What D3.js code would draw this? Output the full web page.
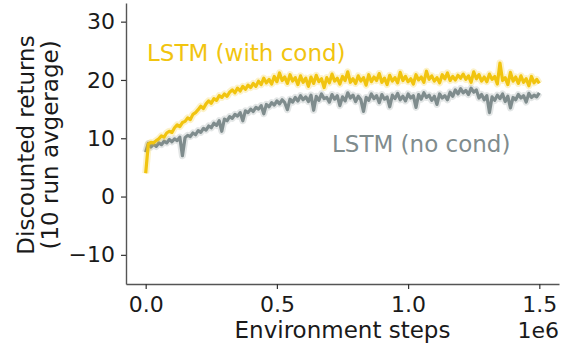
<!DOCTYPE html>
<html>
<head>
<meta charset="utf-8">
<script src="https://cdn.jsdelivr.net/npm/d3@7"></script>
<style>
  body { margin: 0; background: #fff; }
  text { font-family: "DejaVu Sans", sans-serif; }
</style>
</head>
<body>
<div id="vis"></div>
<script>
// LSTM (with cond), one value every 0.01e6 steps from 0 to 1.5e6
var withCond = [4.0, 9.0, 9.3, 9.2, 9.6, 9.9, 10.4, 10.2, 10.9, 11.2,
  11.0, 11.8, 12.3, 12.0, 12.7, 12.9, 13.5, 13.2, 14.1, 14.4,
  14.9, 15.5, 15.1, 15.9, 16.4, 16.0, 16.8, 16.5, 17.3, 17.0,
  17.6, 17.2, 17.9, 18.3, 17.8, 18.6, 18.1, 18.9, 18.4, 19.1,
  18.7, 19.4, 18.9, 19.8, 19.2, 20.3, 19.5, 20.1, 19.3, 20.6,
  19.7, 21.2, 19.9, 20.5, 19.4, 20.9, 19.8, 20.4, 19.2, 20.7,
  19.6, 20.3, 18.9, 20.5, 19.4, 20.8, 19.7, 20.2, 18.7, 20.4,
  19.5, 21.0, 19.8, 20.3, 19.3, 20.6, 19.9, 21.4, 19.6, 20.2,
  19.4, 20.7, 19.8, 20.4, 19.1, 20.9, 19.7, 20.5, 19.9, 21.1,
  19.6, 20.3, 19.2, 20.8, 19.8, 20.4, 19.5, 21.3, 19.9, 20.6,
  19.7, 20.2, 19.3, 20.9, 20.0, 20.5, 19.6, 21.5, 20.1, 20.7,
  19.8, 20.4, 19.5, 20.9, 20.2, 21.2, 19.9, 20.6, 20.0, 20.8,
  20.3, 21.0, 20.1, 20.7, 19.6, 21.4, 20.2, 20.9, 19.8, 20.5,
  19.7, 21.0, 20.1, 20.6, 19.3, 22.9, 19.9, 20.4, 19.2, 21.3,
  19.8, 20.5, 19.4, 20.7, 19.6, 20.2, 19.0, 20.6, 19.5, 20.1, 19.4];

// LSTM (no cond), same steps
var noCond = [7.6, 9.1, 8.5, 9.0, 8.6, 9.2, 8.9, 9.5, 9.2, 9.8,
  9.4, 9.9, 9.6, 10.2, 7.0, 10.1, 10.5, 10.3, 10.9, 10.6,
  11.3, 11.0, 11.7, 11.4, 12.1, 11.8, 12.6, 12.2, 13.0, 11.2,
  13.3, 13.0, 13.7, 13.4, 14.1, 13.8, 14.4, 13.0, 14.7, 14.4,
  15.0, 14.6, 15.3, 15.0, 15.6, 14.2, 15.8, 15.4, 16.1, 15.7,
  16.4, 15.9, 16.6, 16.1, 14.9, 16.7, 16.2, 17.0, 16.4, 17.3,
  16.6, 17.1, 16.3, 17.4, 14.8, 17.2, 16.5, 17.6, 16.8, 17.0,
  16.2, 17.5, 16.7, 17.3, 15.6, 17.1, 16.4, 17.8, 16.9, 17.4,
  16.3, 17.2, 16.6, 14.6, 17.0, 16.5, 17.6, 16.8, 17.3, 16.1,
  17.5, 16.7, 17.1, 15.4, 17.4, 16.8, 17.7, 16.6, 17.2, 16.4,
  17.6, 16.9, 17.3, 15.3, 17.5, 16.7, 17.8, 17.0, 17.4, 16.5,
  17.2, 15.8, 17.6, 16.9, 17.3, 16.6, 17.9, 17.2, 18.3, 17.6,
  18.5, 17.8, 18.2, 17.5, 18.6, 17.9, 18.3, 16.9, 17.5, 16.6,
  17.3, 14.4, 17.1, 16.5, 17.4, 16.8, 17.6, 16.3, 17.2, 15.2,
  17.0, 16.6, 17.5, 16.9, 17.3, 16.2, 17.7, 17.0, 17.4, 17.1, 17.8];

var stepSize = 0.01;   // 1e6 steps between logged points
var xTicks = [0, 0.5, 1.0, 1.5];
var yTicks = [-10, 0, 10, 20, 30];

var width = 570;
var height = 347;

var margin = {
    top: 3,
    left: 126,
    right: 11,
    bottom: 63
};

var yellow = "#f1c40f";
var grey = "#7f8c8d";

var svg = d3.select("#vis")
    .append("svg")
    .attr("width", width)
    .attr("height", height);

var xscale = d3.scaleLinear()
    .domain([-0.075, 1.575])
    .range([margin.left, width - margin.right]);

var yscale = d3.scaleLinear()
    .domain([-15, 33.2])
    .range([height - margin.bottom, margin.top]);

// axes
var xaxis = d3.axisBottom(xscale)
    .tickValues(xTicks)
    .tickFormat(d3.format(".1f"))
    .tickSizeOuter(0)
    .tickSizeInner(5)
    .tickPadding(7);

var yaxis = d3.axisLeft(yscale)
    .tickValues(yTicks)
    .tickFormat(function(d) { return d < 0 ? "\u2212" + Math.abs(d) : d; })
    .tickSizeOuter(0)
    .tickSizeInner(5)
    .tickPadding(6);

var gx = svg.append("g")
    .attr("transform", "translate(0," + (height - margin.bottom) + ")")
    .call(xaxis);

var gy = svg.append("g")
    .attr("transform", "translate(" + margin.left + ",0)")
    .call(yaxis);

[gx, gy].forEach(function(g) {
    g.select(".domain").attr("stroke", "#555").attr("stroke-width", 1.4);
    g.selectAll(".tick line").attr("stroke", "#333").attr("stroke-width", 1.2);
    g.selectAll(".tick text")
        .attr("fill", "#1a1a1a")
        .style("font-family", '"DejaVu Sans", sans-serif')
        .style("font-size", "22px");
});

// lines
var line = d3.line()
    .x(function(d, i) { return xscale(i * stepSize); })
    .y(function(d) { return yscale(d); });

function drawSeries(values, colour) {
    // soft band behind the mean
    svg.append("path")
        .datum(values)
        .attr("fill", "none")
        .attr("stroke", colour)
        .attr("stroke-opacity", 0.22)
        .attr("stroke-width", 7)
        .attr("stroke-linejoin", "round")
        .attr("d", line);

    svg.append("path")
        .datum(values)
        .attr("fill", "none")
        .attr("stroke", colour)
        .attr("stroke-width", 3.2)
        .attr("stroke-linejoin", "round")
        .attr("d", line);
}

drawSeries(noCond, grey);
drawSeries(withCond, yellow);

// annotations
svg.append("text")
    .attr("x", 147)
    .attr("y", 61)
    .style("font-size", "23px")
    .style("fill", yellow)
    .text("LSTM (with cond)");

svg.append("text")
    .attr("x", 332)
    .attr("y", 152)
    .style("font-size", "23px")
    .style("fill", grey)
    .text("LSTM (no cond)");

// axis titles
svg.append("text")
    .attr("x", (xscale(0) + xscale(1.5)) / 2)
    .attr("y", 338)
    .style("text-anchor", "middle")
    .style("font-size", "23px")
    .style("fill", "#1a1a1a")
    .text("Environment steps");

svg.append("text")
    .attr("x", width - margin.right)
    .attr("y", 338)
    .style("text-anchor", "end")
    .style("font-size", "22px")
    .style("fill", "#1a1a1a")
    .text("1e6");

var ylab = svg.append("text")
    .attr("transform", "translate(34," + 145 + ") rotate(-90)")
    .style("text-anchor", "middle")
    .style("font-size", "23px")
    .style("fill", "#1a1a1a");

ylab.append("tspan").attr("x", 0).attr("y", 0).text("Discounted returns");
ylab.append("tspan").attr("x", 0).attr("y", 24).text("(10 run avgerage)");
</script>
</body>
</html>
